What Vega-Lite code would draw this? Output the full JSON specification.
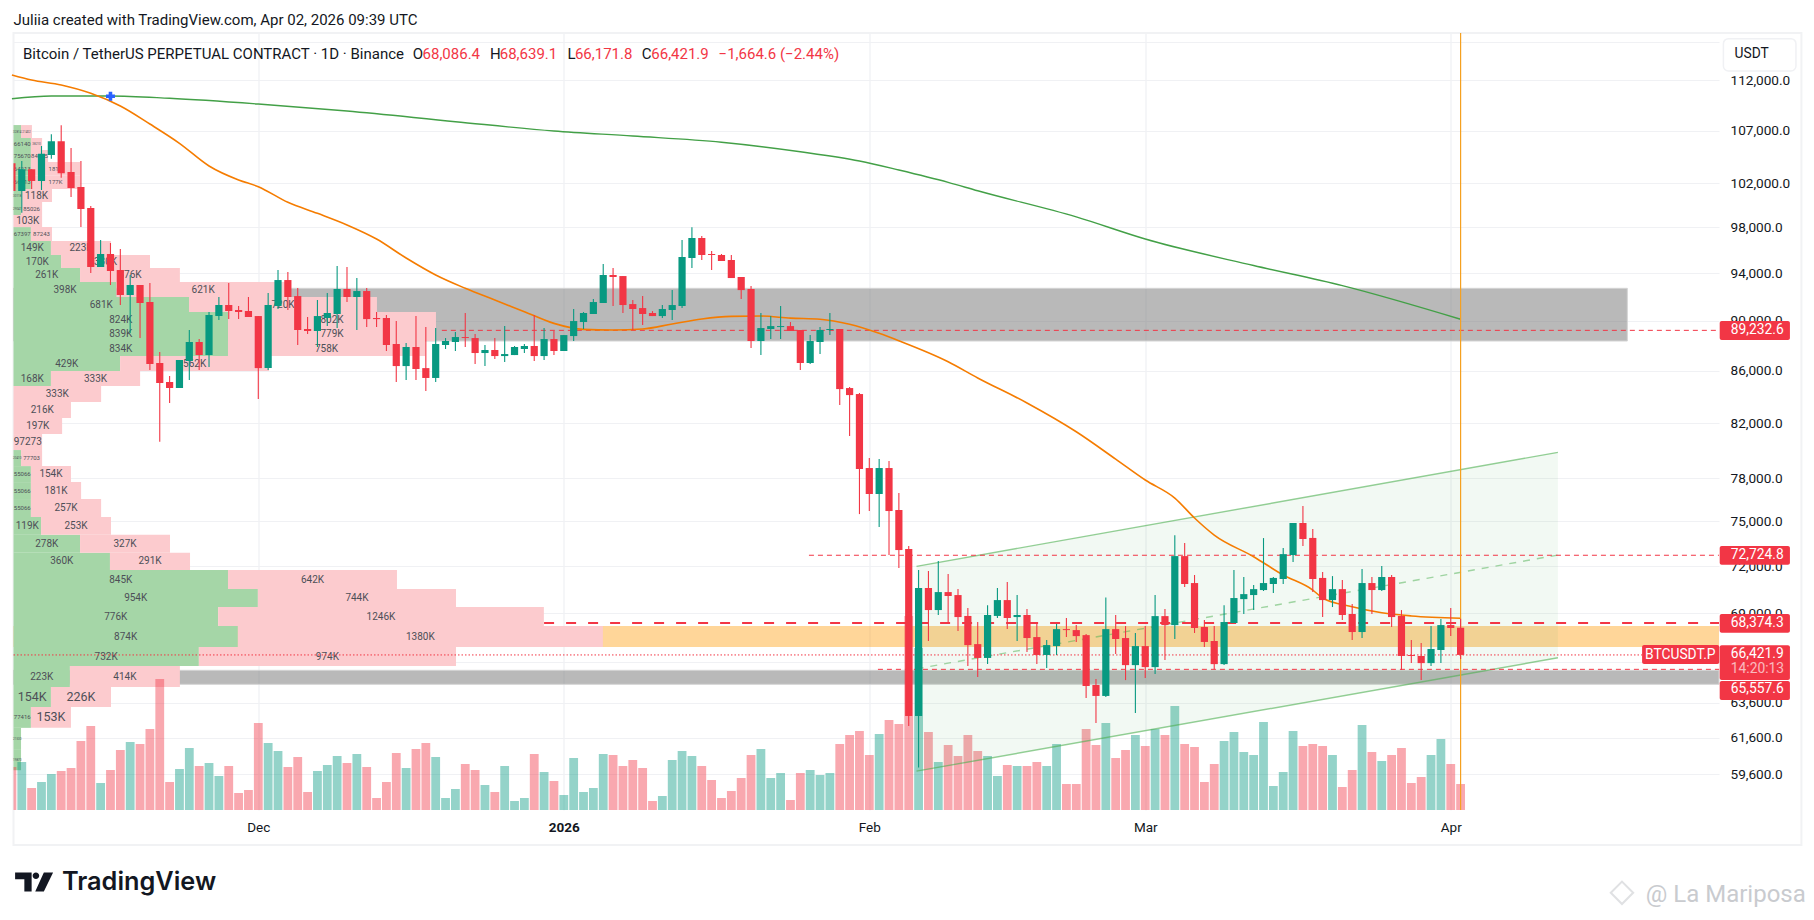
{
"$schema":"https://vega.github.io/schema/vega-lite/v6.json",
"width":1705.5,"height":777,
"autosize":"none",
"padding":{"left":13.5,"top":33,"right":95,"bottom":110},
"background":"#ffffff",
"config":{"font":"Roboto","view":{"stroke":null},"scale":{"continuousPadding":0}},
"datasets":{
"candles":[
{"date":"2025-11-06","open":103870,"high":103870,"low":101290,"close":101290,"volume":43},
{"date":"2025-11-07","open":101290,"high":104100,"low":99310,"close":103310,"volume":48},
{"date":"2025-11-08","open":103310,"high":103310,"low":101480,"close":102210,"volume":22},
{"date":"2025-11-09","open":102210,"high":105520,"low":101380,"close":104770,"volume":28},
{"date":"2025-11-10","open":104660,"high":106660,"low":104300,"close":105990,"volume":36},
{"date":"2025-11-11","open":105990,"high":107530,"low":102510,"close":102930,"volume":39},
{"date":"2025-11-12","open":103060,"high":105330,"low":100730,"close":101560,"volume":42},
{"date":"2025-11-13","open":101660,"high":104090,"low":98020,"close":99640,"volume":69},
{"date":"2025-11-14","open":99730,"high":99910,"low":94000,"close":94520,"volume":84},
{"date":"2025-11-15","open":94520,"high":96870,"low":94520,"close":95650,"volume":27},
{"date":"2025-11-16","open":95650,"high":96610,"low":92980,"close":94180,"volume":40},
{"date":"2025-11-17","open":94265,"high":96080,"low":91310,"close":92145,"volume":60},
{"date":"2025-11-18","open":92145,"high":93840,"low":89010,"close":92990,"volume":68},
{"date":"2025-11-19","open":92990,"high":92990,"low":88610,"close":91480,"volume":66},
{"date":"2025-11-20","open":91560,"high":93160,"low":86070,"close":86540,"volume":81},
{"date":"2025-11-21","open":86620,"high":87490,"low":80630,"close":85060,"volume":131},
{"date":"2025-11-22","open":85140,"high":85600,"low":83520,"close":84670,"volume":28},
{"date":"2025-11-23","open":84670,"high":86860,"low":84670,"close":86860,"volume":41},
{"date":"2025-11-24","open":86780,"high":89260,"low":85290,"close":88290,"volume":62},
{"date":"2025-11-25","open":88290,"high":88530,"low":86070,"close":87250,"volume":44},
{"date":"2025-11-26","open":87250,"high":90730,"low":86300,"close":90480,"volume":47},
{"date":"2025-11-27","open":90400,"high":91980,"low":90070,"close":91310,"volume":34},
{"date":"2025-11-28","open":91310,"high":93160,"low":90150,"close":90810,"volume":44},
{"date":"2025-11-29","open":90900,"high":91230,"low":90150,"close":90730,"volume":17},
{"date":"2025-11-30","open":90810,"high":91980,"low":90320,"close":90320,"volume":20},
{"date":"2025-12-01","open":90400,"high":90400,"low":83830,"close":86220,"volume":87},
{"date":"2025-12-02","open":86220,"high":92310,"low":86070,"close":91310,"volume":67},
{"date":"2025-12-03","open":91230,"high":94265,"low":90980,"close":93410,"volume":59},
{"date":"2025-12-04","open":93410,"high":94090,"low":90900,"close":91980,"volume":43},
{"date":"2025-12-05","open":92060,"high":92730,"low":88050,"close":89260,"volume":53},
{"date":"2025-12-06","open":89340,"high":90320,"low":88930,"close":89180,"volume":18},
{"date":"2025-12-07","open":89180,"high":91730,"low":87890,"close":90400,"volume":39},
{"date":"2025-12-08","open":90240,"high":92310,"low":89580,"close":90650,"volume":45},
{"date":"2025-12-09","open":90570,"high":94610,"low":89420,"close":92650,"volume":54},
{"date":"2025-12-10","open":92650,"high":94520,"low":91560,"close":91980,"volume":47},
{"date":"2025-12-11","open":91980,"high":93580,"low":89260,"close":92480,"volume":56},
{"date":"2025-12-12","open":92480,"high":92730,"low":89500,"close":90150,"volume":43},
{"date":"2025-12-13","open":90240,"high":90730,"low":89500,"close":90150,"volume":12},
{"date":"2025-12-14","open":90240,"high":90480,"low":87570,"close":88050,"volume":28},
{"date":"2025-12-15","open":88130,"high":89990,"low":85140,"close":86380,"volume":57},
{"date":"2025-12-16","open":86380,"high":88210,"low":85290,"close":87890,"volume":42},
{"date":"2025-12-17","open":87890,"high":90400,"low":85290,"close":86150,"volume":61},
{"date":"2025-12-18","open":86220,"high":89500,"low":84440,"close":85450,"volume":67},
{"date":"2025-12-19","open":85450,"high":89420,"low":85140,"close":88130,"volume":53},
{"date":"2025-12-20","open":88050,"high":88610,"low":87730,"close":88370,"volume":12},
{"date":"2025-12-21","open":88290,"high":89100,"low":87570,"close":88690,"volume":21},
{"date":"2025-12-22","open":88690,"high":90650,"low":87890,"close":88610,"volume":46},
{"date":"2025-12-23","open":88610,"high":88930,"low":86540,"close":87410,"volume":40},
{"date":"2025-12-24","open":87410,"high":88050,"low":86380,"close":87650,"volume":25},
{"date":"2025-12-25","open":87650,"high":88610,"low":86940,"close":87170,"volume":18},
{"date":"2025-12-26","open":87170,"high":89580,"low":86700,"close":87330,"volume":44},
{"date":"2025-12-27","open":87250,"high":87970,"low":87250,"close":87890,"volume":9},
{"date":"2025-12-28","open":87730,"high":88130,"low":87410,"close":87970,"volume":12},
{"date":"2025-12-29","open":87970,"high":90480,"low":86780,"close":87170,"volume":56},
{"date":"2025-12-30","open":87170,"high":89420,"low":86860,"close":88530,"volume":38},
{"date":"2025-12-31","open":88530,"high":89180,"low":87250,"close":87570,"volume":29},
{"date":"2026-01-01","open":87570,"high":88850,"low":87570,"close":88850,"volume":15},
{"date":"2026-01-02","open":88770,"high":90980,"low":88370,"close":89990,"volume":52},
{"date":"2026-01-03","open":89910,"high":90730,"low":89340,"close":90650,"volume":18},
{"date":"2026-01-04","open":90570,"high":91810,"low":90570,"close":91560,"volume":22},
{"date":"2026-01-05","open":91480,"high":94780,"low":91480,"close":93840,"volume":56},
{"date":"2026-01-06","open":93840,"high":94440,"low":91230,"close":93670,"volume":55},
{"date":"2026-01-07","open":93750,"high":93750,"low":90650,"close":91310,"volume":44},
{"date":"2026-01-08","open":91390,"high":91730,"low":89260,"close":90980,"volume":50},
{"date":"2026-01-09","open":91060,"high":92060,"low":89660,"close":90570,"volume":42},
{"date":"2026-01-10","open":90650,"high":90810,"low":90400,"close":90400,"volume":9},
{"date":"2026-01-11","open":90400,"high":91310,"low":90240,"close":90980,"volume":14},
{"date":"2026-01-12","open":90900,"high":92560,"low":90070,"close":91310,"volume":50},
{"date":"2026-01-13","open":91230,"high":96870,"low":91060,"close":95390,"volume":59},
{"date":"2026-01-14","open":95300,"high":98000,"low":94440,"close":97060,"volume":54},
{"date":"2026-01-15","open":97060,"high":97220,"low":95130,"close":95560,"volume":44},
{"date":"2026-01-16","open":95650,"high":95910,"low":94265,"close":95560,"volume":30},
{"date":"2026-01-17","open":95560,"high":95650,"low":95040,"close":95040,"volume":12},
{"date":"2026-01-18","open":95130,"high":95560,"low":93580,"close":93580,"volume":19},
{"date":"2026-01-19","open":93670,"high":93670,"low":91810,"close":92560,"volume":32},
{"date":"2026-01-20","open":92650,"high":92900,"low":87810,"close":88370,"volume":55},
{"date":"2026-01-21","open":88370,"high":90650,"low":87250,"close":89420,"volume":61},
{"date":"2026-01-22","open":89340,"high":90400,"low":88530,"close":89580,"volume":32},
{"date":"2026-01-23","open":89500,"high":91230,"low":88530,"close":89580,"volume":37},
{"date":"2026-01-24","open":89580,"high":89910,"low":89180,"close":89180,"volume":10},
{"date":"2026-01-25","open":89260,"high":89260,"low":86070,"close":86620,"volume":37},
{"date":"2026-01-26","open":86620,"high":88850,"low":86540,"close":88370,"volume":40},
{"date":"2026-01-27","open":88290,"high":89500,"low":87330,"close":89260,"volume":35},
{"date":"2026-01-28","open":89260,"high":90650,"low":88850,"close":89340,"volume":37},
{"date":"2026-01-29","open":89340,"high":89340,"low":83370,"close":84590,"volume":66},
{"date":"2026-01-30","open":84670,"high":84750,"low":81050,"close":84130,"volume":75},
{"date":"2026-01-31","open":84210,"high":84290,"low":75500,"close":78660,"volume":79},
{"date":"2026-02-01","open":78730,"high":79450,"low":75710,"close":76890,"volume":55},
{"date":"2026-02-02","open":76890,"high":79380,"low":74620,"close":78730,"volume":76},
{"date":"2026-02-03","open":78730,"high":79230,"low":72740,"close":75710,"volume":90},
{"date":"2026-02-04","open":75780,"high":76960,"low":71880,"close":73070,"volume":86},
{"date":"2026-02-05","open":73140,"high":73340,"low":62260,"close":62830,"volume":194},
{"date":"2026-02-06","open":62830,"high":71750,"low":59960,"close":70590,"volume":162},
{"date":"2026-02-07","open":70590,"high":71690,"low":67270,"close":69190,"volume":78},
{"date":"2026-02-08","open":69190,"high":72340,"low":68880,"close":70330,"volume":48},
{"date":"2026-02-09","open":70330,"high":71490,"low":68390,"close":70080,"volume":65},
{"date":"2026-02-10","open":70140,"high":70520,"low":67880,"close":68750,"volume":54},
{"date":"2026-02-11","open":68820,"high":69320,"low":65760,"close":67020,"volume":75},
{"date":"2026-02-12","open":67080,"high":68440,"low":65100,"close":66240,"volume":59},
{"date":"2026-02-13","open":66240,"high":69500,"low":65870,"close":68880,"volume":54},
{"date":"2026-02-14","open":68820,"high":70590,"low":68690,"close":69820,"volume":34},
{"date":"2026-02-15","open":69820,"high":70970,"low":68000,"close":68690,"volume":45},
{"date":"2026-02-16","open":68750,"high":70140,"low":67270,"close":68880,"volume":44},
{"date":"2026-02-17","open":68880,"high":69250,"low":66600,"close":67450,"volume":44},
{"date":"2026-02-18","open":67510,"high":68440,"low":65870,"close":66420,"volume":48},
{"date":"2026-02-19","open":66420,"high":67330,"low":65640,"close":67020,"volume":44},
{"date":"2026-02-20","open":66960,"high":68320,"low":66420,"close":68000,"volume":66},
{"date":"2026-02-21","open":68000,"high":68690,"low":67510,"close":67940,"volume":26},
{"date":"2026-02-22","open":67940,"high":68250,"low":67210,"close":67570,"volume":26},
{"date":"2026-02-23","open":67630,"high":67700,"low":63870,"close":64570,"volume":81},
{"date":"2026-02-24","open":64630,"high":64980,"low":62430,"close":63990,"volume":65},
{"date":"2026-02-25","open":63990,"high":69990,"low":63930,"close":68000,"volume":87},
{"date":"2026-02-26","open":68000,"high":68880,"low":66480,"close":67390,"volume":52},
{"date":"2026-02-27","open":67450,"high":68190,"low":64920,"close":65810,"volume":60},
{"date":"2026-02-28","open":65810,"high":67760,"low":63000,"close":66960,"volume":75},
{"date":"2026-03-01","open":66960,"high":68190,"low":65040,"close":65690,"volume":64},
{"date":"2026-03-02","open":65690,"high":70140,"low":65280,"close":68810,"volume":81},
{"date":"2026-03-03","open":68810,"high":69250,"low":66110,"close":68250,"volume":75},
{"date":"2026-03-04","open":68250,"high":74060,"low":67390,"close":72670,"volume":104},
{"date":"2026-03-05","open":72670,"high":73540,"low":70650,"close":70850,"volume":66},
{"date":"2026-03-06","open":70910,"high":71430,"low":67760,"close":68070,"volume":63},
{"date":"2026-03-07","open":68130,"high":68560,"low":66900,"close":67210,"volume":28},
{"date":"2026-03-08","open":67270,"high":68190,"low":65570,"close":65870,"volume":46},
{"date":"2026-03-09","open":65870,"high":69500,"low":65810,"close":68440,"volume":69},
{"date":"2026-03-10","open":68380,"high":71750,"low":68380,"close":69950,"volume":78},
{"date":"2026-03-11","open":69880,"high":71300,"low":68940,"close":70200,"volume":58},
{"date":"2026-03-12","open":70140,"high":70780,"low":69190,"close":70520,"volume":55},
{"date":"2026-03-13","open":70460,"high":73870,"low":70400,"close":70910,"volume":88},
{"date":"2026-03-14","open":70850,"high":71300,"low":70270,"close":71240,"volume":24},
{"date":"2026-03-15","open":71170,"high":73200,"low":70850,"close":72800,"volume":38},
{"date":"2026-03-16","open":72740,"high":74890,"low":72280,"close":74890,"volume":79},
{"date":"2026-03-17","open":74890,"high":76060,"low":73340,"close":73810,"volume":64},
{"date":"2026-03-18","open":73880,"high":74480,"low":70330,"close":71170,"volume":66},
{"date":"2026-03-19","open":71240,"high":71620,"low":68750,"close":69820,"volume":64},
{"date":"2026-03-20","open":69820,"high":71360,"low":69380,"close":70520,"volume":55},
{"date":"2026-03-21","open":70520,"high":71100,"low":68560,"close":68880,"volume":23},
{"date":"2026-03-22","open":68940,"high":69570,"low":67330,"close":67820,"volume":40},
{"date":"2026-03-23","open":67820,"high":71820,"low":67450,"close":70910,"volume":85},
{"date":"2026-03-24","open":70910,"high":71300,"low":68940,"close":70460,"volume":58},
{"date":"2026-03-25","open":70460,"high":72020,"low":70400,"close":71300,"volume":49},
{"date":"2026-03-26","open":71300,"high":71430,"low":68130,"close":68750,"volume":55},
{"date":"2026-03-27","open":68820,"high":69190,"low":65520,"close":66360,"volume":62},
{"date":"2026-03-28","open":66420,"high":67330,"low":65930,"close":66360,"volume":27},
{"date":"2026-03-29","open":66360,"high":67140,"low":64920,"close":65930,"volume":33},
{"date":"2026-03-30","open":65930,"high":68190,"low":65750,"close":66780,"volume":55},
{"date":"2026-03-31","open":66720,"high":68630,"low":65930,"close":68250,"volume":71},
{"date":"2026-04-01","open":68250,"high":69320,"low":67570,"close":68070,"volume":46},
{"date":"2026-04-02","open":68086.4,"high":68639.1,"low":66171.8,"close":66421.9,"volume":26}
],
"fastMa":[
{"date":"2025-11-06","price":112560},{"date":"2025-11-08","price":112050},{"date":"2025-11-11","price":111540},{"date":"2025-11-14","price":110700},
{"date":"2025-11-17","price":109430},{"date":"2025-11-20","price":107650},{"date":"2025-11-23","price":105780},{"date":"2025-11-26","price":103620},
{"date":"2025-11-29","price":102310},{"date":"2025-12-01","price":101690},{"date":"2025-12-04","price":100250},{"date":"2025-12-07","price":99250},
{"date":"2025-12-10","price":98210},{"date":"2025-12-13","price":96960},{"date":"2025-12-16","price":95300},{"date":"2025-12-19","price":93840},
{"date":"2025-12-22","price":92710},{"date":"2025-12-25","price":91727},{"date":"2025-12-28","price":90760},{"date":"2025-12-31","price":89800},
{"date":"2026-01-03","price":89310},{"date":"2026-01-06","price":89260},{"date":"2026-01-09","price":89340},{"date":"2026-01-12","price":89750},
{"date":"2026-01-15","price":90160},{"date":"2026-01-18","price":90370},{"date":"2026-01-21","price":90400},{"date":"2026-01-24","price":90230},
{"date":"2026-01-27","price":90140},{"date":"2026-01-30","price":89730},{"date":"2026-02-02","price":88990},{"date":"2026-02-04","price":88390},
{"date":"2026-02-09","price":86720},{"date":"2026-02-12","price":85450},{"date":"2026-02-17","price":83530},{"date":"2026-02-22","price":81370},
{"date":"2026-02-26","price":79370},{"date":"2026-03-01","price":77875},{"date":"2026-03-04","price":76610},{"date":"2026-03-06","price":75230},
{"date":"2026-03-08","price":74070},{"date":"2026-03-12","price":72630},{"date":"2026-03-15","price":71430},{"date":"2026-03-18","price":70460},
{"date":"2026-03-19","price":69950},{"date":"2026-03-22","price":69400},{"date":"2026-03-25","price":69020},{"date":"2026-03-28","price":68820},{"date":"2026-04-02","price":68680}
],
"slowMa":[
{"date":"2025-11-06","price":110160},{"date":"2025-11-10","price":110430},{"date":"2025-11-16","price":110430},{"date":"2025-11-22","price":110200},
{"date":"2025-12-01","price":109630},{"date":"2025-12-10","price":108930},{"date":"2025-12-21","price":107880},{"date":"2025-12-31","price":106970},
{"date":"2026-01-08","price":106480},{"date":"2026-01-17","price":105880},{"date":"2026-01-25","price":104970},{"date":"2026-01-31","price":104090},
{"date":"2026-02-04","price":103240},{"date":"2026-02-09","price":102090},{"date":"2026-02-12","price":101310},{"date":"2026-02-22","price":98930},
{"date":"2026-03-01","price":96960},{"date":"2026-03-12","price":94650},{"date":"2026-03-21","price":92940},{"date":"2026-04-02","price":90140}
],
"channel":[
{"date":"2026-02-05T19:00:00Z","upper":71996,"middle":65590,"lower":59760},
{"date":"2026-04-11T21:00:00Z","upper":79860,"middle":72740,"lower":66250}
],
"profile":[
{"low":106290,"high":107550,"buy":29,"total":71,"buyLabel":"32814","sellLabel":"21402","buyTier":"xs","sellTier":"xs"},
{"low":105137,"high":106290,"buy":67,"total":110,"buyLabel":"66140","sellLabel":"38210","buyTier":"s","sellTier":"xs"},
{"low":103995,"high":105137,"buy":67,"total":133,"buyLabel":"75670","sellLabel":"84975","buyTier":"s","sellTier":"s"},
{"low":102710,"high":103995,"buy":67,"total":256,"buyLabel":"64213","sellLabel":"181K","buyTier":"s","sellTier":"s"},
{"low":101470,"high":102710,"buy":67,"total":256,"buyLabel":"66213","sellLabel":"177K","buyTier":"s","sellTier":"s"},
{"low":100280,"high":101470,"buy":29,"total":148,"buyLabel":"30118","sellLabel":"118K","buyTier":"xs","sellTier":"m"},
{"low":99100,"high":100280,"buy":29,"total":110,"buyLabel":"29047","sellLabel":"85026","buyTier":"xs","sellTier":"s"},
{"low":98020,"high":99100,"buy":0,"total":110,"buyLabel":"","sellLabel":"103K","buyTier":"xs","sellTier":"m"},
{"low":96785,"high":98020,"buy":67,"total":148,"buyLabel":"67397","sellLabel":"87243","buyTier":"s","sellTier":"s"},
{"low":95560,"high":96785,"buy":144,"total":375,"buyLabel":"149K","sellLabel":"223K","buyTier":"m","sellTier":"m"},
{"low":94435,"high":95560,"buy":183,"total":525,"buyLabel":"170K","sellLabel":"330K","buyTier":"m","sellTier":"m"},
{"low":93240,"high":94435,"buy":256,"total":640,"buyLabel":"261K","sellLabel":"376K","buyTier":"m","sellTier":"m"},
{"low":91980,"high":93240,"buy":396,"total":1063,"buyLabel":"398K","sellLabel":"621K","buyTier":"m","sellTier":"m"},
{"low":90730,"high":91980,"buy":675,"total":1398,"buyLabel":"681K","sellLabel":"720K","buyTier":"m","sellTier":"m"},
{"low":89500,"high":90730,"buy":825,"total":1625,"buyLabel":"824K","sellLabel":"802K","buyTier":"m","sellTier":"m"},
{"low":88370,"high":89500,"buy":825,"total":1625,"buyLabel":"839K","sellLabel":"779K","buyTier":"m","sellTier":"m"},
{"low":87170,"high":88370,"buy":825,"total":1583,"buyLabel":"834K","sellLabel":"758K","buyTier":"m","sellTier":"m"},
{"low":85990,"high":87170,"buy":410,"total":983,"buyLabel":"429K","sellLabel":"562K","buyTier":"m","sellTier":"m"},
{"low":84820,"high":85990,"buy":144,"total":487,"buyLabel":"168K","sellLabel":"333K","buyTier":"m","sellTier":"m"},
{"low":83600,"high":84820,"buy":0,"total":337,"buyLabel":"","sellLabel":"333K","buyTier":"xs","sellTier":"m"},
{"low":82390,"high":83600,"buy":0,"total":221,"buyLabel":"","sellLabel":"216K","buyTier":"xs","sellTier":"m"},
{"low":81200,"high":82390,"buy":0,"total":187,"buyLabel":"","sellLabel":"197K","buyTier":"xs","sellTier":"m"},
{"low":80029,"high":81200,"buy":0,"total":110,"buyLabel":"","sellLabel":"97273","buyTier":"xs","sellTier":"m"},
{"low":78870,"high":80029,"buy":29,"total":110,"buyLabel":"20410","sellLabel":"77703","buyTier":"xs","sellTier":"s"},
{"low":77730,"high":78870,"buy":67,"total":221,"buyLabel":"55066","sellLabel":"154K","buyTier":"s","sellTier":"m"},
{"low":76540,"high":77730,"buy":67,"total":260,"buyLabel":"55066","sellLabel":"181K","buyTier":"s","sellTier":"m"},
{"low":75300,"high":76540,"buy":67,"total":337,"buyLabel":"55066","sellLabel":"257K","buyTier":"s","sellTier":"m"},
{"low":74090,"high":75300,"buy":106,"total":375,"buyLabel":"119K","sellLabel":"253K","buyTier":"m","sellTier":"m"},
{"low":72890,"high":74090,"buy":256,"total":602,"buyLabel":"278K","sellLabel":"327K","buyTier":"m","sellTier":"m"},
{"low":71754,"high":72890,"buy":371,"total":679,"buyLabel":"360K","sellLabel":"291K","buyTier":"m","sellTier":"m"},
{"low":70520,"high":71754,"buy":825,"total":1475,"buyLabel":"845K","sellLabel":"642K","buyTier":"m","sellTier":"m"},
{"low":69380,"high":70520,"buy":940,"total":1702,"buyLabel":"954K","sellLabel":"744K","buyTier":"m","sellTier":"m"},
{"low":68190,"high":69380,"buy":787,"total":2040,"buyLabel":"776K","sellLabel":"1246K","buyTier":"m","sellTier":"m"},
{"low":66900,"high":68190,"buy":863,"total":2267,"buyLabel":"874K","sellLabel":"1380K","buyTier":"m","sellTier":"m"},
{"low":65750,"high":66900,"buy":713,"total":1702,"buyLabel":"732K","sellLabel":"974K","buyTier":"m","sellTier":"m"},
{"low":64510,"high":65750,"buy":217,"total":640,"buyLabel":"223K","sellLabel":"414K","buyTier":"m","sellTier":"m"},
{"low":63350,"high":64510,"buy":144,"total":375,"buyLabel":"154K","sellLabel":"226K","buyTier":"l","sellTier":"l"},
{"low":62160,"high":63350,"buy":67,"total":221,"buyLabel":"77416","sellLabel":"153K","buyTier":"s","sellTier":"l"},
{"low":60970,"high":62160,"buy":29,"total":29,"buyLabel":"21530","sellLabel":"","buyTier":"xs","sellTier":"xs"},
{"low":59810,"high":60970,"buy":29,"total":29,"buyLabel":"19870","sellLabel":"","buyTier":"xs","sellTier":"xs"}
],
"tags":[
{"label":"89,232.6","top":89990,"bottom":88450,"at":89232.6},
{"label":"72,724.8","top":73340,"bottom":72100,"at":72724.8},
{"label":"68,374.3","top":68940,"bottom":67775,"at":68374.3},
{"label":"66,421.9","top":67005,"bottom":64923,"at":66500},
{"label":"65,557.6","top":64864,"bottom":63752,"at":64394}
]
},
"layer":[
{
"encoding":{
"x":{"type":"temporal","title":null,"scale":{"type":"utc","nice":false,"domain":["2025-11-06T03:50:00Z","2026-04-28T05:17:00Z"]},
"axis":{"orient":"bottom","values":[{"year":2025,"month":12,"date":1,"utc":true},{"year":2026,"month":1,"date":1,"utc":true},{"year":2026,"month":2,"date":1,"utc":true},{"year":2026,"month":3,"date":1,"utc":true},{"year":2026,"month":4,"date":1,"utc":true}],"labelExpr":"utcFormat(datum.value, utcmonth(datum.value)==0 ? '%Y' : '%b')","labelFontWeight":{"condition":{"test":"utcmonth(datum.value)==0","value":"bold"},"value":"normal"},"labelFontSize":13.5,"labelColor":"#131722","labelPadding":10,"labelOverlap":false,"labelBound":false,"labelFlush":false,"domain":false,"ticks":false,"grid":true,"gridColor":"#eff0f3","gridWidth":1.2}},
"y":{"type":"quantitative","title":null,"scale":{"type":"log","domain":[57685,116943],"nice":false,"zero":false},
"axis":{"orient":"right","values":[116000,112000,107000,102000,98000,94000,90000,86000,82000,78000,75000,72000,69000,66000,63600,61600,59600],"labelExpr":"datum.value==116000 ? '' : format(datum.value, ',.1f')","labelFontSize":13.6,"labelColor":"#131722","labelPadding":11,"labelOverlap":false,"labelBound":false,"domain":false,"ticks":false,"grid":true,"gridColor":"#f0f1f4","gridWidth":1.2}}
},
"layer":[
{
"data":{"values":[{"from":"2025-11-06T03:50:00Z","to":"2026-05-06T14:00:00Z","top":116943,"bottom":55874}]},
"mark":{"type":"rect","fillOpacity":0,"stroke":"#f1f2f4","strokeWidth":2},
"encoding":{"x":{"field":"from"},"x2":{"field":"to"},"y":{"field":"top"},"y2":{"field":"bottom"}}
},
{
"data":{"values":[{"from":"2025-11-06T03:50:00Z","to":"2026-04-18T22:00:00Z","top":92710,"bottom":88370}]},
"mark":{"type":"rect","fill":"#737373","fillOpacity":0.5,"stroke":"#d4d4d4","strokeWidth":1},
"encoding":{"x":{"field":"from"},"x2":{"field":"to"},"y":{"field":"top"},"y2":{"field":"bottom"}}
},
{
"data":{"values":[{"from":"2025-11-06T03:50:00Z","to":"2026-04-28T05:17:00Z","top":65500,"bottom":64670}]},
"mark":{"type":"rect","fill":"#737373","fillOpacity":0.5,"stroke":"#d4d4d4","strokeWidth":1},
"encoding":{"x":{"field":"from"},"x2":{"field":"to"},"y":{"field":"top"},"y2":{"field":"bottom"}}
},
{
"data":{"values":[{"from":"2025-11-06T03:50:00Z","to":"2026-04-28T05:17:00Z","top":68190,"bottom":66900}]},
"mark":{"type":"rect","fill":"#ff9800","fillOpacity":0.4},
"encoding":{"x":{"field":"from"},"x2":{"field":"to"},"y":{"field":"top"},"y2":{"field":"bottom"}}
}
]
},
{
"data":{"name":"profile"},
"encoding":{
"x":{"type":"quantitative","title":null,"scale":{"domain":[0,6560],"nice":false,"zero":false},"axis":null},
"y":{"type":"quantitative","title":null,"scale":{"type":"log","domain":[57685,116943],"nice":false,"zero":false},"axis":null}
},
"layer":[
{"transform":[{"calculate":"0","as":"base"}],"mark":{"type":"rect","fill":"#a5d6a7"},"encoding":{"x":{"field":"base"},"x2":{"field":"buy"},"y":{"field":"high"},"y2":{"field":"low"}}},
{"mark":{"type":"rect","fill":"#fccbce"},"encoding":{"x":{"field":"buy"},"x2":{"field":"total"},"y":{"field":"high"},"y2":{"field":"low"}}},
{
"transform":[{"calculate":"datum.buy/2","as":"buyMid"},{"calculate":"sqrt(datum.low*datum.high)","as":"mid"}],
"mark":{"type":"text","color":"#4d4f57","baseline":"middle"},
"encoding":{"x":{"field":"buyMid"},"y":{"field":"mid"},"text":{"field":"buyLabel"},
"size":{"field":"buyTier","type":"ordinal","legend":null,"scale":{"type":"ordinal","domain":["xs","s","m","l"],"range":[3,6,10,12.5]}}}
},
{
"transform":[{"calculate":"(datum.buy+datum.total)/2","as":"sellMid"},{"calculate":"sqrt(datum.low*datum.high)","as":"mid"}],
"mark":{"type":"text","color":"#4d4f57","baseline":"middle"},
"encoding":{"x":{"field":"sellMid"},"y":{"field":"mid"},"text":{"field":"sellLabel"},
"size":{"field":"sellTier","type":"ordinal","legend":null,"scale":{"type":"ordinal","domain":["xs","s","m","l"],"range":[3,6,10,12.5]}}}
}
]
},
{
"data":{"name":"candles"},
"mark":{"type":"bar","size":8.8,"clip":true,"opacity":0.43},
"encoding":{
"x":{"field":"date","type":"temporal","title":null,"scale":{"type":"utc","nice":false,"domain":["2025-11-06T03:50:00Z","2026-04-28T05:17:00Z"]},"axis":null},
"y":{"field":"volume","type":"quantitative","title":null,"scale":{"domain":[0,777],"nice":false},"axis":null},
"color":{"condition":{"test":"datum.close>=datum.open","value":"#089981"},"value":"#f23645"}
}
},
{
"encoding":{
"x":{"type":"temporal","title":null,"scale":{"type":"utc","nice":false,"domain":["2025-11-06T03:50:00Z","2026-04-28T05:17:00Z"]},"axis":null},
"y":{"type":"quantitative","title":null,"scale":{"type":"log","domain":[57685,116943],"nice":false,"zero":false},"axis":null}
},
"layer":[
{"data":{"name":"channel"},"mark":{"type":"area","color":"#4caf50","opacity":0.07},"encoding":{"x":{"field":"date"},"y":{"field":"upper"},"y2":{"field":"lower"}}},
{"data":{"name":"channel"},"mark":{"type":"line","color":"#4caf50","opacity":0.6,"strokeWidth":1.4},"encoding":{"x":{"field":"date"},"y":{"field":"upper"}}},
{"data":{"name":"channel"},"mark":{"type":"line","color":"#4caf50","opacity":0.6,"strokeWidth":1.4},"encoding":{"x":{"field":"date"},"y":{"field":"lower"}}},
{"data":{"name":"channel"},"mark":{"type":"line","color":"#4caf50","opacity":0.5,"strokeWidth":1.4,"strokeDash":[7,7]},"encoding":{"x":{"field":"date"},"y":{"field":"middle"}}},
{"data":{"values":[{"price":89232.6,"from":"2025-12-19T15:00:00Z","to":"2026-04-28T05:17:00Z"},{"price":72724.8,"from":"2026-01-25T21:00:00Z","to":"2026-04-28T05:17:00Z"},{"price":65557.6,"from":"2026-02-01T21:00:00Z","to":"2026-04-28T05:17:00Z"}]},
"mark":{"type":"rule","color":"#f23645","strokeWidth":1,"strokeDash":[5,4]},"encoding":{"x":{"field":"from"},"x2":{"field":"to"},"y":{"field":"price"}}},
{"data":{"values":[{"price":68374.3,"from":"2025-12-30T00:00:00Z","to":"2026-04-28T05:17:00Z"}]},
"mark":{"type":"rule","color":"#f23645","strokeWidth":2,"strokeDash":[10,12]},"encoding":{"x":{"field":"from"},"x2":{"field":"to"},"y":{"field":"price"}}},
{"data":{"values":[{"price":66421.9,"from":"2025-11-06T03:50:00Z","to":"2026-04-20T10:00:00Z"}]},
"mark":{"type":"rule","color":"#f23645","strokeWidth":1,"strokeDash":[1.5,2]},"encoding":{"x":{"field":"from"},"x2":{"field":"to"},"y":{"field":"price"}}},
{"data":{"name":"slowMa"},"mark":{"type":"line","color":"#43a047","strokeWidth":1.4,"interpolate":"monotone"},"encoding":{"x":{"field":"date"},"y":{"field":"price"}}},
{"data":{"name":"fastMa"},"mark":{"type":"line","color":"#f57c00","strokeWidth":1.6,"interpolate":"monotone"},"encoding":{"x":{"field":"date"},"y":{"field":"price"}}},
{"data":{"values":[{"date":"2026-04-02","top":116943,"bottom":57685}]},"mark":{"type":"rule","color":"#f5a020","strokeWidth":1.2},"encoding":{"x":{"field":"date"},"y":{"field":"top"},"y2":{"field":"bottom"}}},
{"data":{"values":[{"date":"2025-11-16","price":110400}]},"mark":{"type":"point","shape":"cross","filled":true,"size":80,"opacity":1,"color":"#2962ff"},"encoding":{"x":{"field":"date"},"y":{"field":"price"}}},
{"data":{"name":"candles"},"mark":{"type":"rule","strokeWidth":1.1,"clip":true},
"encoding":{"x":{"field":"date"},"y":{"field":"low"},"y2":{"field":"high"},"color":{"condition":{"test":"datum.close>=datum.open","value":"#089981"},"value":"#f23645"}}},
{"data":{"name":"candles"},"mark":{"type":"bar","size":7.2,"clip":true},
"encoding":{"x":{"field":"date"},"y":{"field":"open"},"y2":{"field":"close"},"color":{"condition":{"test":"datum.close>=datum.open","value":"#089981"},"value":"#f23645"}}},
{"data":{"name":"tags"},"mark":{"type":"rect","fill":"#f23645","cornerRadius":2},
"encoding":{"x":{"datum":{"year":2026,"month":4,"date":28,"hours":7,"utc":true}},"x2":{"datum":{"year":2026,"month":5,"date":5,"hours":10,"utc":true}},"y":{"field":"top"},"y2":{"field":"bottom"}}},
{"data":{"values":[{"top":67025,"bottom":65875}]},"mark":{"type":"rect","fill":"#f23645","cornerRadius":2},
"encoding":{"x":{"datum":{"year":2026,"month":4,"date":20,"hours":10,"utc":true}},"x2":{"datum":{"year":2026,"month":4,"date":28,"hours":6,"utc":true}},"y":{"field":"top"},"y2":{"field":"bottom"}}},
{"data":{"name":"tags"},"mark":{"type":"text","color":"#ffffff","align":"left","baseline":"middle","fontSize":13.8},
"encoding":{"x":{"datum":{"year":2026,"month":4,"date":29,"hours":10,"utc":true}},"y":{"field":"at"},"text":{"field":"label"}}},
{"data":{"values":[{"label":"14:20:13","price":65575}]},"mark":{"type":"text","color":"#ffffff","opacity":0.65,"align":"left","baseline":"middle","fontSize":13.8},
"encoding":{"x":{"datum":{"year":2026,"month":4,"date":29,"hours":10,"utc":true}},"y":{"field":"price"},"text":{"field":"label"}}},
{"data":{"values":[{"label":"BTCUSDT.P","price":66421.9}]},"mark":{"type":"text","color":"#ffffff","align":"center","baseline":"middle","fontSize":13.8},
"encoding":{"x":{"datum":{"year":2026,"month":4,"date":24,"hours":7,"utc":true}},"y":{"field":"price"},"text":{"field":"label"}}},
{"data":{"values":[{"from":"2026-04-28T16:00:00Z","to":"2026-05-06T00:40:00Z","top":116340,"bottom":112970}]},
"mark":{"type":"rect","fill":"#ffffff","stroke":"#f0f1f4","strokeWidth":1.5,"cornerRadius":5},
"encoding":{"x":{"field":"from"},"x2":{"field":"to"},"y":{"field":"top"},"y2":{"field":"bottom"}}},
{"data":{"values":[{"label":"USDT","date":"2026-04-29T19:00:00Z","price":114730}]},"mark":{"type":"text","color":"#131722","align":"left","baseline":"middle","fontSize":13.8},
"encoding":{"x":{"field":"date"},"y":{"field":"price"},"text":{"field":"label"}}},
{"data":{"values":[
{"label":"Bitcoin / TetherUS PERPETUAL CONTRACT · 1D · Binance","date":"2025-11-07T03:00:00Z","tone":"ink","price":114730},
{"label":"O","date":"2025-12-16T16:00:00Z","tone":"ink","price":114730},{"label":"68,086.4","date":"2025-12-17T16:00:00Z","tone":"red","price":114730},
{"label":"H","date":"2025-12-24T12:00:00Z","tone":"ink","price":114730},{"label":"68,639.1","date":"2025-12-25T12:00:00Z","tone":"red","price":114730},
{"label":"L","date":"2026-01-01T09:00:00Z","tone":"ink","price":114730},{"label":"66,171.8","date":"2026-01-02T03:00:00Z","tone":"red","price":114730},
{"label":"C","date":"2026-01-08T22:00:00Z","tone":"ink","price":114730},{"label":"66,421.9","date":"2026-01-09T21:00:00Z","tone":"red","price":114730},
{"label":"−1,664.6 (−2.44%)","date":"2026-01-16T17:00:00Z","tone":"red","price":114730}
]},
"mark":{"type":"text","align":"left","baseline":"middle","fontSize":15},
"encoding":{"x":{"field":"date"},"y":{"field":"price"},"text":{"field":"label"},"color":{"condition":{"test":"datum.tone=='red'","value":"#f23645"},"value":"#131722"}}},
{"data":{"values":[{"label":"Juliia created with TradingView.com, Apr 02, 2026 09:39 UTC","date":"2025-11-06T03:50:00Z","price":118330}]},
"mark":{"type":"text","align":"left","baseline":"middle","fontSize":15,"color":"#131722"},
"encoding":{"x":{"field":"date"},"y":{"field":"price"},"text":{"field":"label"}}},
{"data":{"values":[{"date":"2025-11-08T06:00:00Z","price":54030}]},
"mark":{"type":"point","filled":true,"opacity":1,"color":"#131722","size":1444,"shape":"M-1 -0.504H-0.13V0.504H-0.513V-0.139H-1Z M-0.078 -0.33a0.174 0.174 0 1 0 0.348 0a0.174 0.174 0 1 0 -0.348 0Z M0.513 -0.504H1L0.513 0.504H0.06Z"},
"encoding":{"x":{"field":"date"},"y":{"field":"price"}}},
{"data":{"values":[{"label":"TradingView","date":"2025-11-11T02:00:00Z","price":54030}]},
"mark":{"type":"text","align":"left","baseline":"middle","font":"Inter","fontWeight":600,"fontSize":25.3,"color":"#131722"},
"encoding":{"x":{"field":"date"},"y":{"field":"price"},"text":{"field":"label"}}},
{"data":{"values":[{"date":"2026-04-18T09:00:00Z","price":53500}]},
"mark":{"type":"point","shape":"diamond","filled":false,"size":500,"color":"#d3d5d8","strokeWidth":2},
"encoding":{"x":{"field":"date"},"y":{"field":"price"}}},
{"data":{"values":[{"label":"@ La Mariposa","date":"2026-04-20T19:00:00Z","price":53390}]},
"mark":{"type":"text","align":"left","baseline":"middle","fontSize":24,"color":"#c9cbcf"},
"encoding":{"x":{"field":"date"},"y":{"field":"price"},"text":{"field":"label"}}}
]
}
],
"resolve":{"scale":{"x":"independent","y":"independent"}}
}
